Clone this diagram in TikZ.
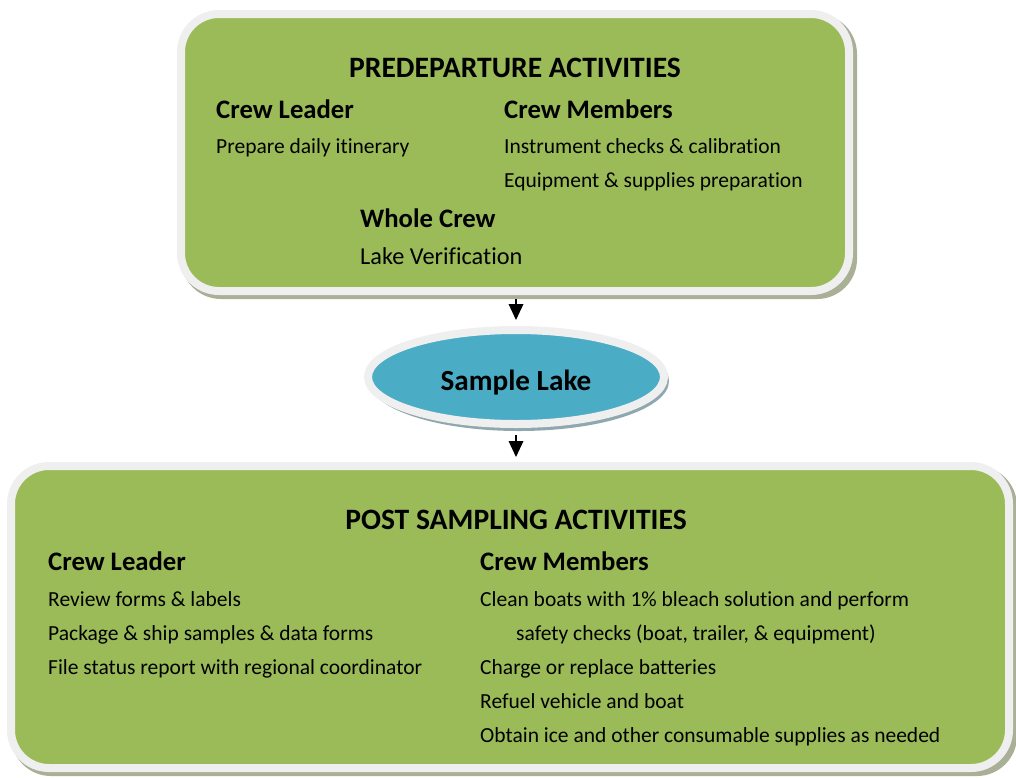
\documentclass[tikz,border=0pt]{standalone}
\usepackage{fontspec}
\setmainfont[Ligatures={NoCommon}]{Carlito}
\usetikzlibrary{arrows.meta,shapes.geometric}
\definecolor{boxgreen}{HTML}{9BBB59}
\definecolor{rimgray}{HTML}{EFEFEF}
\definecolor{shadowgreen}{HTML}{A9B096}
\definecolor{lakeblue}{HTML}{4BACC6}
\definecolor{shadowblue}{HTML}{8FA8AF}
\tikzset{
  panel/.style={rectangle, rounded corners=38pt, fill=boxgreen, draw=rimgray, line width=8pt, inner sep=0pt},
  panelshadow/.style={rectangle, rounded corners=40pt, fill=shadowgreen, inner sep=0pt},
  title/.style={font=\fontsize{29.6}{34}\selectfont\bfseries, anchor=base},
  head/.style={font=\fontsize{26.7}{30}\selectfont\bfseries, anchor=base west, inner sep=0pt},
  body/.style={font=\fontsize{21.5}{25}\selectfont, anchor=base west, inner sep=0pt},
  flow/.style={line width=2pt, arrows={-Triangle[length=16pt,width=15pt,line width=0pt]}},
}
\begin{document}
\begin{tikzpicture}[x=1pt,y=-1pt]
\useasboundingbox (0,0) rectangle (1016,777);
% top panel
\node[panelshadow, minimum width=676pt, minimum height=285pt] at (519,156.5) {};
\node[panel, minimum width=668pt, minimum height=277pt] (pre) at (515,152.5) {};
\node[title] (pretitle) at (515,77) {PREDEPARTURE ACTIVITIES};
\node[head] (cl1) at (216,118) {Crew Leader};
\node[body] (cl1a) at (216,153) {Prepare daily itinerary};
\node[head] (cm1) at (504,118) {Crew Members};
\node[body] (cm1a) at (504,153) {Instrument checks \& calibration};
\node[body] (cm1b) at (504,187) {Equipment \& supplies preparation};
\node[head] (wc) at (360,227) {Whole Crew};
\node[body, font=\fontsize{24.3}{28}\selectfont] (wca) at (360,264) {Lake Verification};
% ellipse
\node[ellipse, fill=shadowblue, minimum width=300pt, minimum height=100pt, inner sep=0pt] at (519,381) {};
\node[ellipse, fill=lakeblue, draw=rimgray, line width=8pt, minimum width=296pt, minimum height=94pt, inner sep=0pt] (lake) at (516,377) {};
\node[font=\fontsize{29.2}{34}\selectfont\bfseries, anchor=base] (lakelabel) at (516,390) {Sample Lake};
% bottom panel
\node[panelshadow, minimum width=1006pt, minimum height=310pt] at (514,621) {};
\node[panel, minimum width=998pt, minimum height=302pt] (post) at (510,617) {};
\node[title] (posttitle) at (516,529) {POST SAMPLING ACTIVITIES};
\node[head] (cl2) at (48,570) {Crew Leader};
\node[body] (cl2a) at (48,606) {Review forms \& labels};
\node[body] (cl2b) at (48,640) {Package \& ship samples \& data forms};
\node[body] (cl2c) at (48,674) {File status report with regional coordinator};
\node[head] (cm2) at (480,570) {Crew Members};
\node[body] (cm2a) at (480,606) {Clean boats with 1\% bleach solution and perform};
\node[body] (cm2b) at (516,640) {safety checks (boat, trailer, \& equipment)};
\node[body] (cm2c) at (480,674) {Charge or replace batteries};
\node[body] (cm2d) at (480,708) {Refuel vehicle and boat};
\node[body] (cm2e) at (480,742) {Obtain ice and other consumable supplies as needed};
% arrows
\draw[flow] ([yshift=-4pt]pre.south -| lake.north) -- ([yshift=6pt]lake.north);
\draw[flow] ([yshift=-7pt]lake.south) -- ([yshift=5pt]post.north -| lake.south);
\end{tikzpicture}
\end{document}
